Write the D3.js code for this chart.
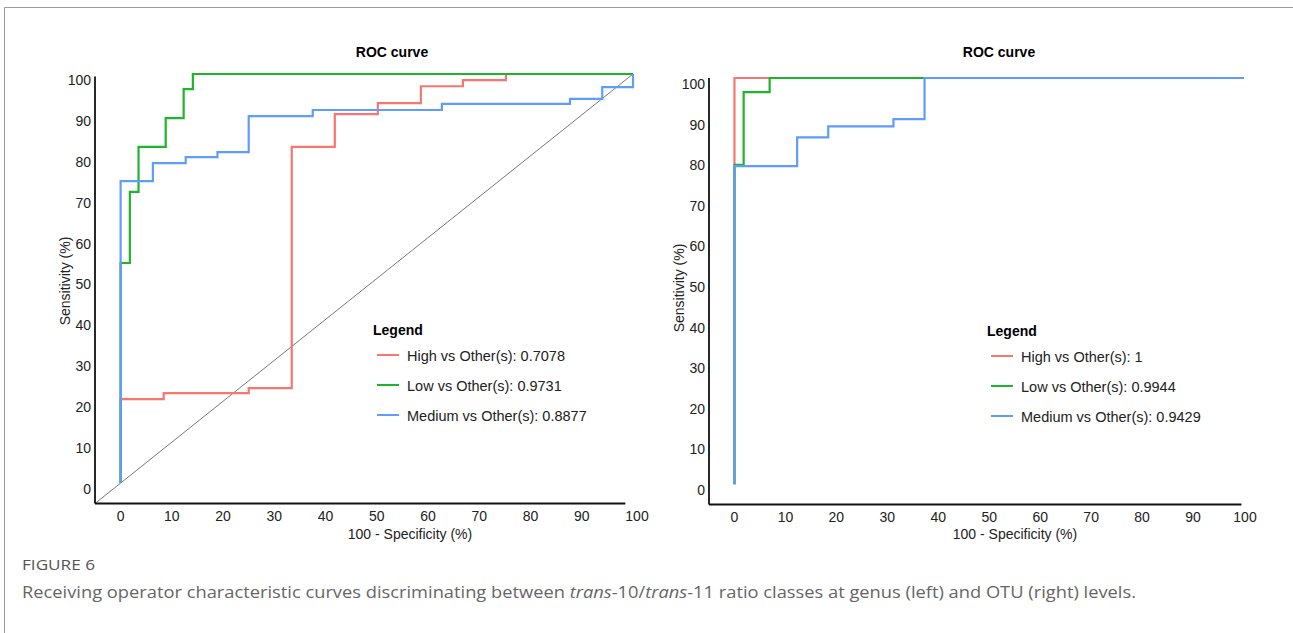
<!DOCTYPE html>
<meta charset="utf-8">
<style>
body { margin: 0; background: #fff; }
svg { display: block; font-family: "Liberation Sans", Arial, sans-serif; }
.axis-line { stroke: #111; stroke-width: 1.8; fill: none; }
.tick-label { font-size: 14px; fill: #222; }
.roc { fill: none; stroke-width: 2.2; }
.caption { font-family: "Open Sans", Lato, sans-serif; fill: #666; }
</style>
<svg width="1293" height="633"></svg>
<script src="https://cdnjs.cloudflare.com/ajax/libs/d3/7.8.5/d3.min.js"></script>
<script>

// tick values, both panels
var xTicks = [0, 10, 20, 30, 40, 50, 60, 70, 80, 90, 100];
var yTicks = [0, 10, 20, 30, 40, 50, 60, 70, 80, 90, 100];

var seriesNames = ["High", "Low", "Medium"];
var seriesColors = ["#f8766d", "#1db52b", "#5f9cfb"];

// genus level (left) - step points [100 - specificity, sensitivity]
var genusHigh = [[0, 0], [0, 20.5], [8.4, 20.5], [8.4, 22], [25, 22], [25, 23.2], [33.4, 23.2], [33.4, 82.2],
  [41.8, 82.2], [41.8, 90.2], [50.2, 90.2], [50.2, 92.9], [58.6, 92.9], [58.6, 97], [66.8, 97], [66.8, 98.5],
  [75.2, 98.5], [75.2, 100], [100, 100]];
var genusLow = [[0, 0], [0, 53.8], [1.8, 53.8], [1.8, 71.2], [3.5, 71.2], [3.5, 82.2], [8.8, 82.2], [8.8, 89.2],
  [12.3, 89.2], [12.3, 96.3], [14.1, 96.3], [14.1, 100], [100, 100]];
var genusMedium = [[0, 0], [0, 73.8], [6.3, 73.8], [6.3, 78.2], [12.7, 78.2], [12.7, 79.7], [18.9, 79.7], [18.9, 80.9],
  [25, 80.9], [25, 89.7], [37.5, 89.7], [37.5, 91.2], [62.7, 91.2], [62.7, 92.7], [87.7, 92.7], [87.7, 93.9],
  [94, 93.9], [94, 96.8], [100, 96.8], [100, 100]];
var genusAuc = ["0.7078", "0.9731", "0.8877"];

// OTU level (right)
var otuHigh = [[0, 0], [0, 100], [100, 100]];
var otuLow = [[0, 0], [0, 78.6], [1.8, 78.6], [1.8, 96.5], [6.9, 96.5], [6.9, 100], [100, 100]];
var otuMedium = [[0, 0], [0, 78.3], [12.3, 78.3], [12.3, 85.4], [18.4, 85.4], [18.4, 88.1], [31.2, 88.1],
  [31.2, 89.9], [37.3, 89.9], [37.3, 100], [100, 100]];
var otuAuc = ["1", "0.9944", "0.9429"];

var svg = d3.select("svg");

// thin frame of the figure box
svg.append("line").attr("x1", 4.5).attr("x2", 1293).attr("y1", 7.5).attr("y2", 7.5)
    .style("stroke", "#9a9a9a").style("stroke-width", 1);
svg.append("line").attr("x1", 4.5).attr("x2", 4.5).attr("y1", 7.5).attr("y2", 633)
    .style("stroke", "#9a9a9a").style("stroke-width", 1);

function drawPanel(p) {
  var x = d3.scaleLinear().domain([-5, 100]).range(p.xRange);
  var y = d3.scaleLinear().domain([-5, 100]).range(p.yRange);
  var g = svg.append("g");

  // chance diagonal (only the genus panel has one)
  if (p.diagonal) {
    g.append("line")
        .attr("x1", x(-5)).attr("y1", y(-5))
        .attr("x2", x(100)).attr("y2", y(100))
        .style("stroke", "#555").style("stroke-width", 0.8);
  }

  var line = d3.line().x(function(d) { return x(d[0]); }).y(function(d) { return y(d[1]); });

  p.series.forEach(function(s, i) {
    g.append("path")
        .attr("class", "roc")
        .attr("d", line(s))
        .style("stroke", seriesColors[i]);
  });

  // axes (no tick marks, labels only)
  g.append("line").attr("class", "axis-line")
      .attr("x1", x(-5)).attr("x2", x(-5)).attr("y1", y(-5)).attr("y2", y(p.yTop));
  g.append("line").attr("class", "axis-line")
      .attr("x1", x(-5)).attr("x2", x(p.xEnd)).attr("y1", y(-5)).attr("y2", y(-5));

  g.selectAll(".xt").data(xTicks).enter().append("text")
      .attr("class", "tick-label")
      .attr("x", function(d) { return x(d) + (d == 100 ? p.lastShift : 0); })
      .attr("y", y(-5) + 17)
      .attr("text-anchor", "middle")
      .text(function(d) { return d; });

  g.selectAll(".yt").data(yTicks).enter().append("text")
      .attr("class", "tick-label")
      .attr("x", x(-5) - 4)
      .attr("y", function(d) { return y(d) + 6; })
      .attr("dy", "0.35em")
      .attr("text-anchor", "end")
      .text(function(d) { return d; });

  g.append("text")
      .attr("x", p.titleX).attr("y", 57)
      .attr("text-anchor", "middle")
      .style("font-size", "14px").style("font-weight", "bold")
      .text("ROC curve");

  g.append("text")
      .attr("transform", "translate(" + (x(-5) - 25) + "," + p.yLabelY + ") rotate(-90)")
      .attr("text-anchor", "middle")
      .style("font-size", "14px").style("fill", "#222")
      .text("Sensitivity (%)");

  g.append("text")
      .attr("x", p.xLabelX).attr("y", 539)
      .attr("text-anchor", "middle")
      .style("font-size", "14px").style("fill", "#222")
      .text("100 - Specificity (%)");

  // legend
  var lg = g.append("g").attr("transform", "translate(" + p.legend[0] + "," + p.legend[1] + ")");
  lg.append("text").attr("x", 0).attr("y", 5)
      .style("font-size", "14px").style("font-weight", "bold")
      .text("Legend");
  seriesNames.forEach(function(name, i) {
    var yy = 25 + i * 30;
    lg.append("line")
        .attr("x1", 4).attr("x2", 26).attr("y1", yy).attr("y2", yy)
        .style("stroke", seriesColors[i]).style("stroke-width", 2);
    lg.append("text")
        .attr("x", 34).attr("y", yy + 5.5)
        .style("font-size", "14.5px").style("fill", "#222")
        .text(name + " vs Other(s): " + p.auc[i]);
  });
}

drawPanel({
  xRange: [95, 633], yRange: [503.5, 74], xEnd: 98.5, yTop: 99.4, diagonal: true, lastShift: 4,
  series: [genusHigh, genusLow, genusMedium], auc: genusAuc,
  titleX: 392, yLabelY: 281, xLabelX: 410, legend: [373, 330]
});

drawPanel({
  xRange: [709, 1244], yRange: [504.5, 78], xEnd: 99.5, yTop: 100, diagonal: false, lastShift: 1,
  series: [otuHigh, otuLow, otuMedium], auc: otuAuc,
  titleX: 999, yLabelY: 288, xLabelX: 1015, legend: [987, 331]
});

// caption
svg.append("text").attr("class", "caption")
    .attr("x", 22).attr("y", 570)
    .attr("textLength", 73).attr("lengthAdjust", "spacingAndGlyphs")
    .style("font-size", "14px").style("fill", "#555")
    .text("FIGURE 6");

var cap = svg.append("text").attr("class", "caption")
    .attr("x", 22).attr("y", 598)
    .attr("textLength", 1114).attr("lengthAdjust", "spacingAndGlyphs")
    .style("font-size", "17px");
cap.append("tspan").text("Receiving operator characteristic curves discriminating between ");
cap.append("tspan").style("font-style", "italic").text("trans");
cap.append("tspan").text("-10/");
cap.append("tspan").style("font-style", "italic").text("trans");
cap.append("tspan").text("-11 ratio classes at genus (left) and OTU (right) levels.");

</script>
